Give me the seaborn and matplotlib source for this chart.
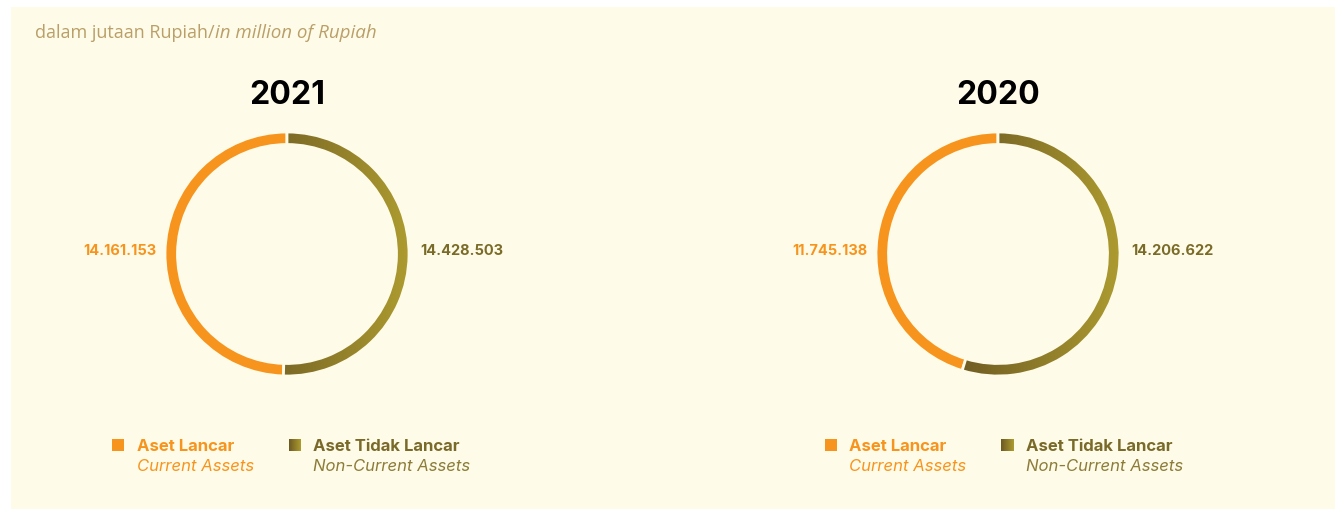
import numpy as np
import matplotlib
matplotlib.use('Agg')
import matplotlib.pyplot as plt
import seaborn as sns
from matplotlib.colors import LinearSegmentedColormap
from matplotlib.patches import Rectangle

# data (dalam jutaan Rupiah)
tahun = ['2021', '2020']
aset_lancar = [14161153, 11745138]
aset_tidak_lancar = [14428503, 14206622]
kategori_id = ['Aset Lancar', 'Aset Tidak Lancar']
kategori_en = ['Current Assets', 'Non-Current Assets']

sns.set_theme(style='white')
plt.rcParams['font.family'] = ['Open Sans', 'DejaVu Sans']
font_judul = ['Inter', 'Open Sans', 'DejaVu Sans']

W, H = 1335, 510
bg = '#FEFCE9'
oranye = '#F7941D'
zaitun_gelap = '#6D5A23'
zaitun_terang = '#AD9B30'
cmap_zaitun = LinearSegmentedColormap.from_list('zaitun', [zaitun_gelap, zaitun_terang])


def fx(x):
    return x / W


def fy(y):
    return 1 - y / H


def format_rp(v):
    return f"{v:,}".replace(',', '.')


fig = plt.figure(figsize=(W / 100, H / 100), dpi=100)
fig.patch.set_facecolor('white')
fig.add_artist(Rectangle((fx(11), 0), 1 - fx(11), fy(8), transform=fig.transFigure,
                         facecolor=bg, edgecolor='none', zorder=0))

fig.text(fx(35), fy(33), 'dalam jutaan Rupiah/', fontsize=13, color='#BA9F68',
         ha='left', va='center')
fig.text(fx(215), fy(33), 'in million of Rupiah', fontsize=13.5, color='#BA9F68',
         ha='left', va='center', style='italic')

pusat_x = [287, 998]
pusat_y = 255
R = 122
legend_x = [(112, 137, 289, 313), (825, 849, 1001, 1026)]

for i, th in enumerate(tahun):
    cx = pusat_x[i]
    ax = fig.add_axes([fx(cx - R), fy(pusat_y + R), 2 * R / W, 2 * R / H])
    ax.set_facecolor('none')
    wedges, _ = ax.pie([aset_lancar[i], aset_tidak_lancar[i]], startangle=90,
                       counterclock=True, radius=1, colors=[oranye, 'none'],
                       wedgeprops=dict(width=12.5 / R, edgecolor=bg, linewidth=2))
    wedges[1].set_zorder(3)
    # gradasi warna zaitun di irisan kanan
    im = ax.imshow(np.linspace(0, 1, 256).reshape(1, -1), cmap=cmap_zaitun,
                   extent=[-0.35, 1.0, -1, 1], aspect='auto', zorder=2)
    im.set_clip_path(wedges[1])
    ax.set_xlim(-1, 1)
    ax.set_ylim(-1, 1)
    ax.axis('off')

    fig.text(fx(cx), fy(95), th, fontsize=23, fontweight='bold', color='black',
             ha='center', va='center', family=font_judul)
    fig.text(fx(cx - 131), fy(251), format_rp(aset_lancar[i]), fontsize=10.5,
             fontweight='bold', color=oranye, ha='right', va='center', family=font_judul)
    fig.text(fx(cx + 133), fy(251), format_rp(aset_tidak_lancar[i]), fontsize=10.5,
             fontweight='bold', color='#7B6B28', ha='left', va='center', family=font_judul)

    # legenda
    kx1, tx1, kx2, tx2 = legend_x[i]
    fig.add_artist(Rectangle((fx(kx1), fy(452)), 12 / W, 12 / H, transform=fig.transFigure,
                             facecolor=oranye, edgecolor='none'))
    lax = fig.add_axes([fx(kx2), fy(452), 12 / W, 12 / H])
    lax.imshow(np.linspace(0, 1, 32).reshape(1, -1), cmap=cmap_zaitun, aspect='auto')
    lax.axis('off')
    fig.text(fx(tx1), fy(447), kategori_id[0], fontsize=12, fontweight='bold',
             color=oranye, ha='left', va='center', family=font_judul)
    fig.text(fx(tx1), fy(467), kategori_en[0], fontsize=12, style='italic',
             color=oranye, ha='left', va='center', family=font_judul)
    fig.text(fx(tx2), fy(447), kategori_id[1], fontsize=12, fontweight='bold',
             color='#7A6A2A', ha='left', va='center', family=font_judul)
    fig.text(fx(tx2), fy(467), kategori_en[1], fontsize=12, style='italic',
             color='#8C7C38', ha='left', va='center', family=font_judul)

fig.savefig('out.png', dpi=100, facecolor=fig.get_facecolor())
